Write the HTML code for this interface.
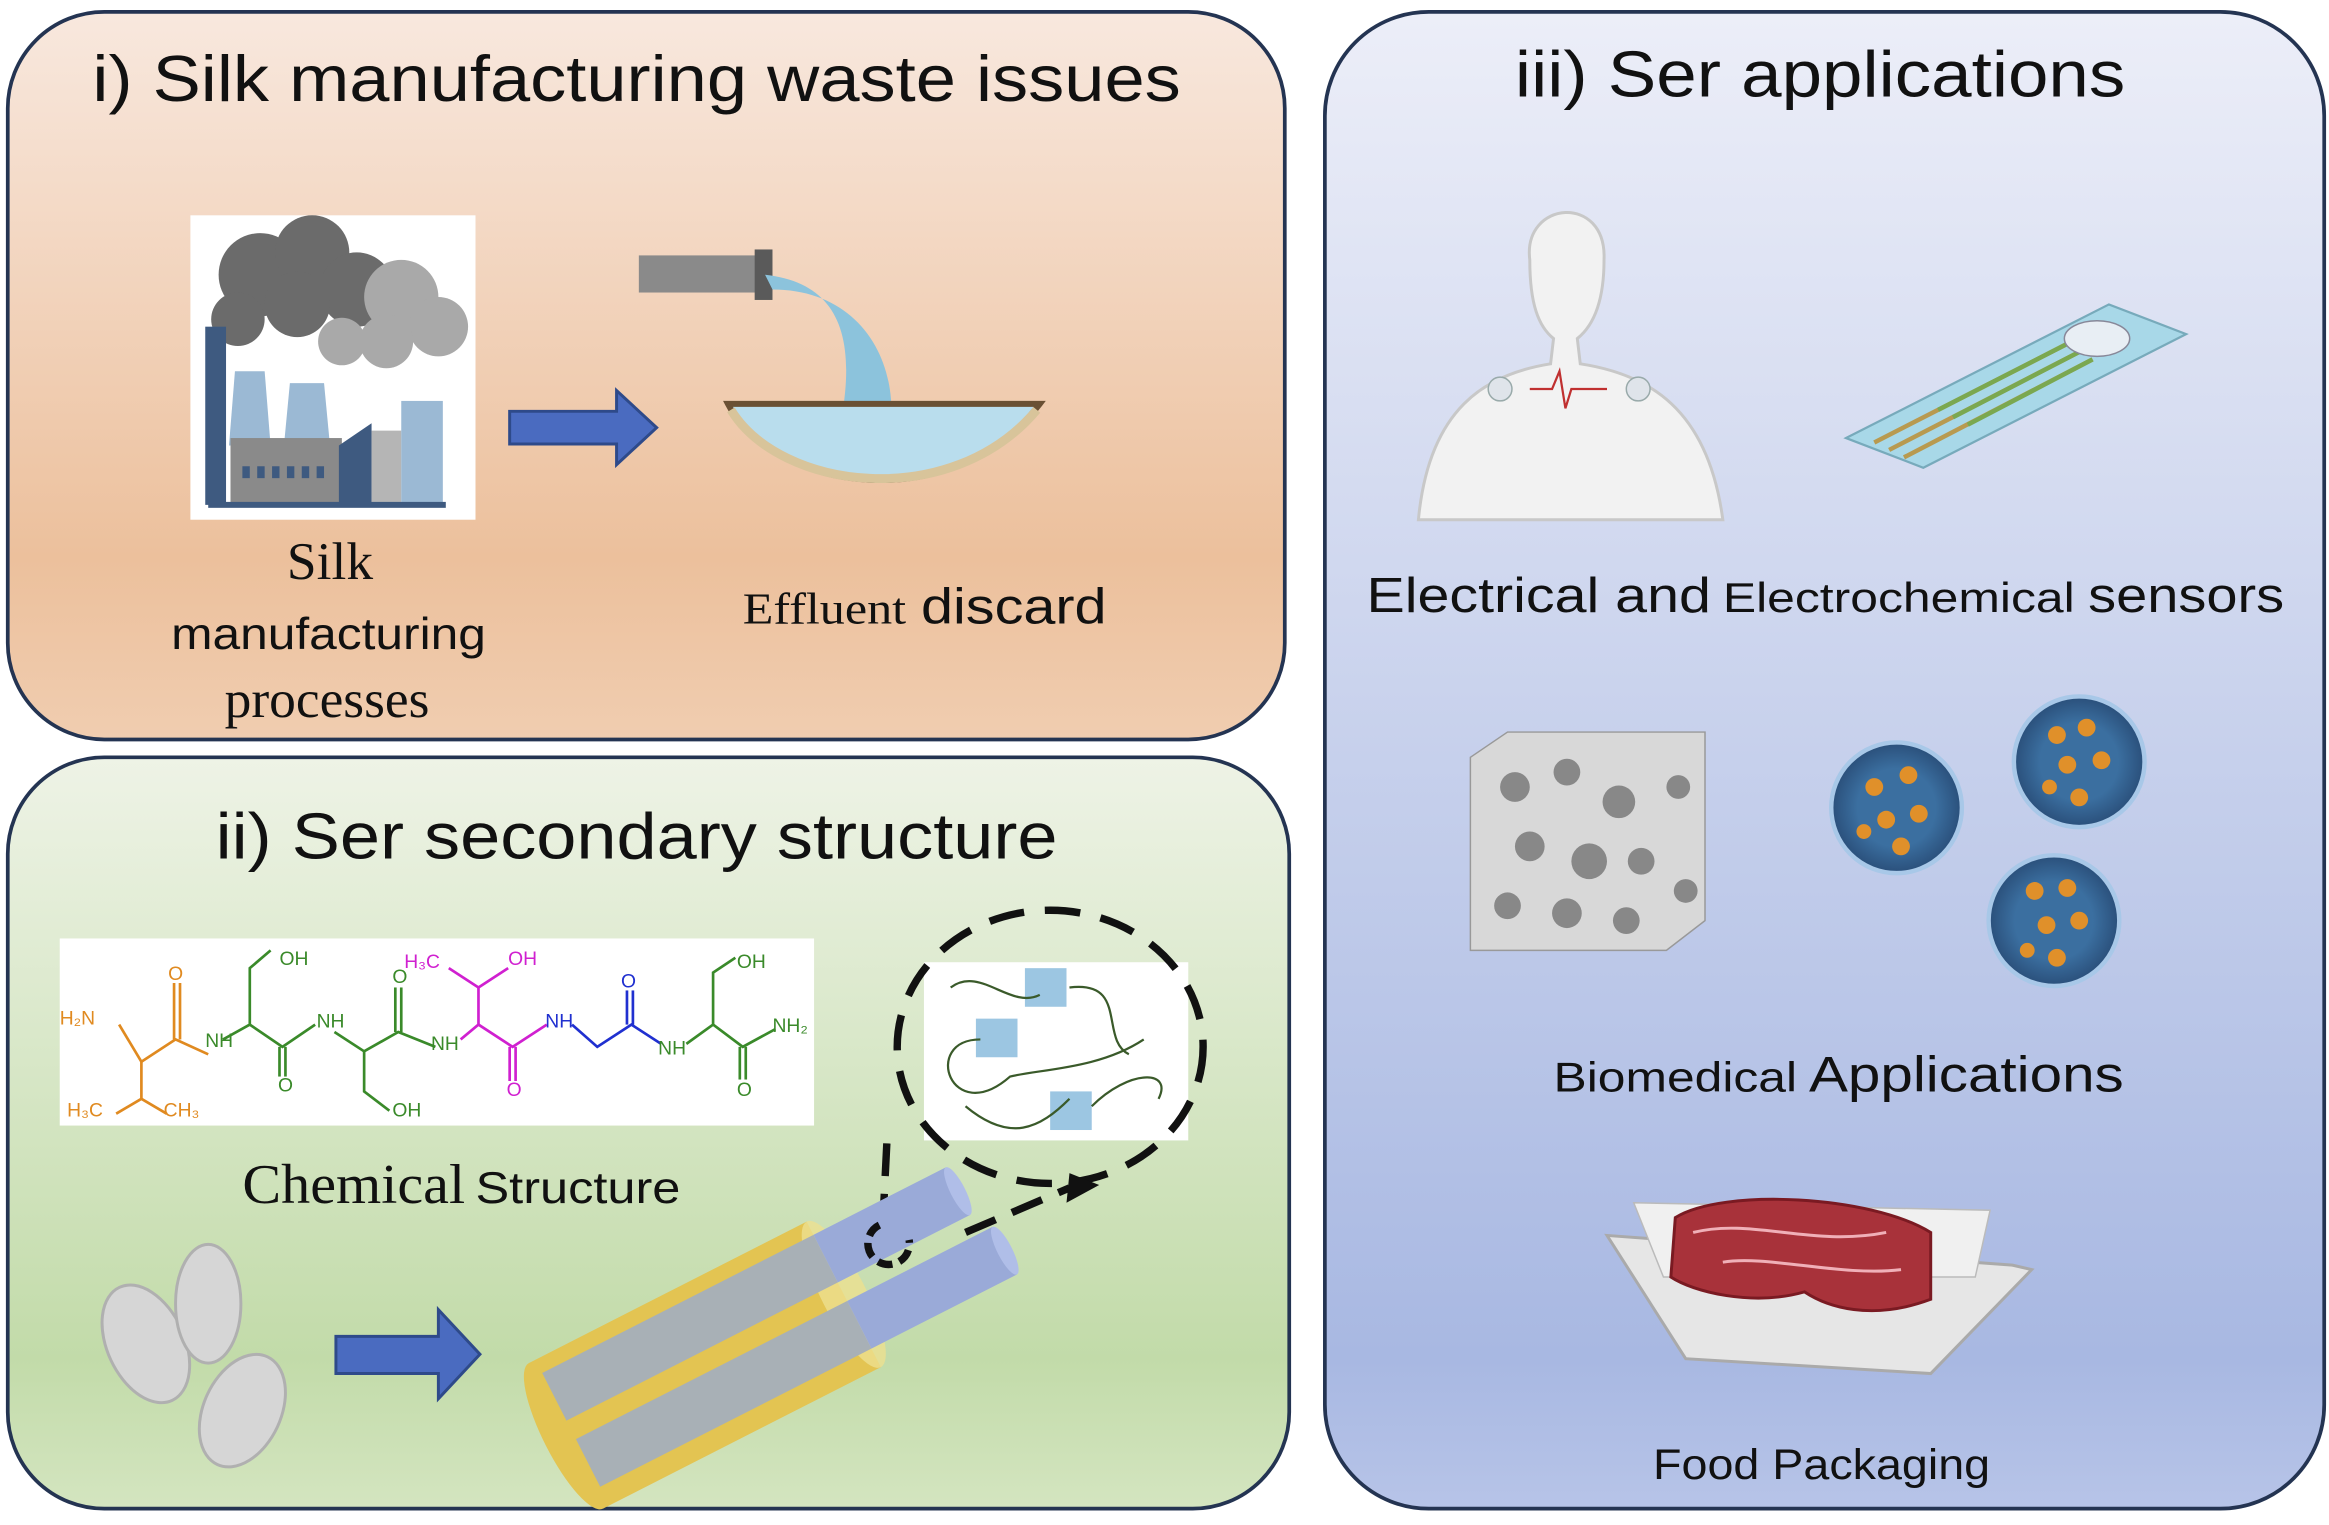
<!DOCTYPE html>
<html><head><meta charset="utf-8"><style>
html,body{margin:0;padding:0;background:#fff;}
svg{display:block;}
text{font-family:"Liberation Sans","DejaVu Sans",sans-serif;}
.serif{font-family:"Liberation Serif",serif;}
</style></head><body>
<svg width="2329" height="1525" viewBox="0 0 1568 1027" xmlns="http://www.w3.org/2000/svg">
<defs>
<linearGradient id="g1" x1="0" y1="0" x2="0" y2="1"><stop offset="0" stop-color="#f8e8de"/><stop offset="0.75" stop-color="#ecc09c"/><stop offset="1" stop-color="#f0cdb0"/></linearGradient>
<linearGradient id="g2" x1="0" y1="0" x2="0" y2="1"><stop offset="0" stop-color="#eef3e6"/><stop offset="0.8" stop-color="#c2dba9"/><stop offset="1" stop-color="#d4e5c0"/></linearGradient>
<linearGradient id="g3" x1="0" y1="0" x2="0" y2="1"><stop offset="0" stop-color="#eceef8"/><stop offset="0.9" stop-color="#a8b8e2"/><stop offset="1" stop-color="#b7c4e8"/></linearGradient>
<radialGradient id="cap"><stop offset="0.6" stop-color="#3b6fa0"/><stop offset="1" stop-color="#2a4f7a"/></radialGradient>
</defs>
<rect x="5" y="8" width="860" height="490" rx="65" fill="url(#g1)" stroke="#243452" stroke-width="2.5"/>
<rect x="5" y="510" width="863" height="506" rx="65" fill="url(#g2)" stroke="#243452" stroke-width="2.5"/>
<rect x="892" y="8" width="673" height="1008" rx="70" fill="url(#g3)" stroke="#243452" stroke-width="2.5"/>

<text x="62" y="68" font-size="44" textLength="733" lengthAdjust="spacingAndGlyphs" fill="#111">i) Silk manufacturing waste issues</text>
<text x="1020" y="65" font-size="44" textLength="411" lengthAdjust="spacingAndGlyphs" fill="#111">iii) Ser applications</text>
<text x="145" y="578" font-size="44" textLength="567" lengthAdjust="spacingAndGlyphs" fill="#111">ii) Ser secondary structure</text>

<!-- factory -->
<rect x="128" y="145" width="192" height="205" fill="#fff"/>
<g fill="#6b6b6b"><circle cx="175" cy="185" r="28"/><circle cx="210" cy="170" r="25"/><circle cx="240" cy="195" r="25"/><circle cx="160" cy="215" r="18"/><circle cx="200" cy="205" r="22"/></g>
<g fill="#a9a9a9"><circle cx="270" cy="200" r="25"/><circle cx="295" cy="220" r="20"/><circle cx="260" cy="230" r="18"/><circle cx="230" cy="230" r="16"/></g>
<rect x="138" y="220" width="14" height="120" fill="#3e5a80"/>
<polygon points="158,250 178,250 182,300 154,300" fill="#9bb9d4"/>
<polygon points="195,258 218,258 222,300 191,300" fill="#9bb9d4"/>
<rect x="155" y="295" width="75" height="45" fill="#8a8a8a"/>
<g fill="#3e5a80"><rect x="163" y="314" width="5" height="8"/><rect x="173" y="314" width="5" height="8"/><rect x="183" y="314" width="5" height="8"/><rect x="193" y="314" width="5" height="8"/><rect x="203" y="314" width="5" height="8"/><rect x="213" y="314" width="5" height="8"/></g>
<polygon points="228,300 250,285 250,340 228,340" fill="#3e5a80"/>
<rect x="250" y="290" width="20" height="50" fill="#b5b5b5"/>
<rect x="270" y="270" width="28" height="70" fill="#9bb9d4"/>
<rect x="140" y="338" width="160" height="4" fill="#3e5a80"/>
<text x="222" y="390" class="serif" font-size="36" text-anchor="middle" fill="#111">Silk</text>
<text x="115" y="437" font-size="30" textLength="212" lengthAdjust="spacingAndGlyphs" fill="#111">manufacturing</text>
<text x="220" y="483" class="serif" font-size="36" text-anchor="middle" fill="#111">processes</text>

<polygon points="343,277 415,277 415,263 442,288 415,313 415,299 343,299" fill="#4a6bc0" stroke="#2e4a8a" stroke-width="2"/>

<!-- effluent -->
<rect x="430" y="172" width="82" height="25" fill="#8a8a8a"/>
<rect x="508" y="168" width="12" height="34" fill="#5a5a5a"/>
<path d="M515,185 C560,190 575,220 568,272 L600,272 C598,230 570,195 520,195 Z" fill="#8cc3dc"/>
<path d="M490,272 C520,330 640,350 700,272 Z" fill="#b9dded" stroke="#6a5034" stroke-width="4"/>
<path d="M492,276 C525,330 640,345 698,276" fill="none" stroke="#d8c49a" stroke-width="6"/>
<text x="500" y="420" class="serif" font-size="30" textLength="110" lengthAdjust="spacingAndGlyphs" fill="#111">Effluent</text>
<text x="620" y="420" font-size="34" textLength="125" lengthAdjust="spacingAndGlyphs" fill="#111">discard</text>

<!-- chem structure -->
<rect x="40" y="632" width="508" height="126" fill="#fff"/>
<g fill="none" stroke-width="1.8">
<polyline stroke="#e08a20" points="80,690 95,715 118,700 140,710"/>
<polyline stroke="#e08a20" points="95,715 95,740 78,750"/>
<polyline stroke="#e08a20" points="95,740 112,750"/>
<line stroke="#e08a20" x1="117" y1="700" x2="117" y2="662"/><line stroke="#e08a20" x1="121" y1="700" x2="121" y2="662"/>
<polyline stroke="#3a8a2a" points="150,700 168,690 168,652 182,640"/>
<polyline stroke="#3a8a2a" points="168,690 190,705 212,690"/>
<line stroke="#3a8a2a" x1="188" y1="705" x2="188" y2="725"/><line stroke="#3a8a2a" x1="192" y1="705" x2="192" y2="725"/>
<polyline stroke="#3a8a2a" points="225,695 245,708 268,695 293,705"/>
<polyline stroke="#3a8a2a" points="245,708 245,735 262,748"/>
<line stroke="#3a8a2a" x1="266" y1="695" x2="266" y2="665"/><line stroke="#3a8a2a" x1="270" y1="695" x2="270" y2="665"/>
<polyline stroke="#d020d0" points="310,700 322,690 345,705 368,690"/>
<polyline stroke="#d020d0" points="322,690 322,665 342,652"/>
<polyline stroke="#d020d0" points="322,665 302,652"/>
<line stroke="#d020d0" x1="343" y1="705" x2="343" y2="728"/><line stroke="#d020d0" x1="347" y1="705" x2="347" y2="728"/>
<polyline stroke="#2030d0" points="385,690 402,705 425,690 445,703"/>
<line stroke="#2030d0" x1="422" y1="690" x2="422" y2="667"/><line stroke="#2030d0" x1="426" y1="690" x2="426" y2="667"/>
<polyline stroke="#3a8a2a" points="462,703 480,690 480,655 495,645"/>
<polyline stroke="#3a8a2a" points="480,690 500,705 522,693"/>
<line stroke="#3a8a2a" x1="498" y1="705" x2="498" y2="727"/><line stroke="#3a8a2a" x1="502" y1="705" x2="502" y2="727"/>
</g>
<g font-size="13">
<text x="40" y="690" fill="#e08a20">H₂N</text><text x="113" y="660" fill="#e08a20">O</text>
<text x="45" y="752" fill="#e08a20">H₃C</text><text x="110" y="752" fill="#e08a20">CH₃</text>
<text x="138" y="705" fill="#3a8a2a">NH</text><text x="188" y="650" fill="#3a8a2a">OH</text>
<text x="213" y="692" fill="#3a8a2a">NH</text><text x="187" y="735" fill="#3a8a2a">O</text>
<text x="264" y="752" fill="#3a8a2a">OH</text><text x="264" y="662" fill="#3a8a2a">O</text>
<text x="290" y="707" fill="#3a8a2a">NH</text>
<text x="272" y="652" fill="#d020d0">H₃C</text><text x="342" y="650" fill="#d020d0">OH</text>
<text x="341" y="738" fill="#d020d0">O</text>
<text x="367" y="692" fill="#2030d0">NH</text><text x="418" y="665" fill="#2030d0">O</text>
<text x="443" y="710" fill="#3a8a2a">NH</text><text x="496" y="652" fill="#3a8a2a">OH</text>
<text x="520" y="695" fill="#3a8a2a">NH₂</text><text x="496" y="738" fill="#3a8a2a">O</text>
</g>
<text x="163" y="810" class="serif" font-size="38" textLength="150" lengthAdjust="spacingAndGlyphs" fill="#111">Chemical</text>
<text x="320" y="810" font-size="30" textLength="138" lengthAdjust="spacingAndGlyphs" fill="#111">Structure</text>

<!-- zoom circle -->
<rect x="622" y="648" width="178" height="120" fill="#fff"/>
<ellipse cx="707" cy="705" rx="103" ry="92" fill="none" stroke="#111" stroke-width="5" stroke-dasharray="24,14"/>
<g fill="#9cc6e2"><rect x="690" y="652" width="28" height="26"/><rect x="657" y="686" width="28" height="26"/><rect x="707" y="735" width="28" height="26"/></g>
<path d="M640,665 C660,650 680,680 700,670 M720,665 C760,660 740,700 760,710 M660,700 C620,700 640,760 680,725 C700,720 740,720 770,700 M650,745 C680,770 700,760 720,740 M735,745 C760,720 790,720 780,740" fill="none" stroke="#3a5a2a" stroke-width="1.5"/>
<path d="M597,770 L595,810 M650,830 L720,800" stroke="#111" stroke-width="5" stroke-dasharray="22,12" fill="none"/>
<polygon points="720,790 740,798 718,810" fill="#111"/>

<!-- cocoons -->
<g fill="#d6d6d6" stroke="#b0b0b0" stroke-width="2">
<ellipse cx="98" cy="905" rx="26" ry="42" transform="rotate(-25 98 905)"/>
<ellipse cx="140" cy="878" rx="22" ry="40"/>
<ellipse cx="163" cy="950" rx="26" ry="40" transform="rotate(25 163 950)"/>
</g>
<polygon points="226,900 295,900 295,882 323,912 295,942 295,925 226,925" fill="#4a6bc0" stroke="#2e4a8a" stroke-width="2"/>

<!-- fiber -->
<g transform="rotate(-27 510 890)">
<rect x="360" y="845" width="210" height="110" fill="#e3c452"/>
<ellipse cx="360" cy="900" rx="15" ry="55" fill="#e3c452"/>
<ellipse cx="570" cy="900" rx="15" ry="55" fill="#ece090" opacity="0.8"/>
<rect x="365" y="855" width="205" height="36" fill="#a8b0b6"/>
<rect x="570" y="855" width="100" height="36" fill="#9aaad8"/>
<rect x="365" y="905" width="205" height="36" fill="#a8b0b6"/>
<rect x="570" y="905" width="110" height="36" fill="#9aaad8"/>
<ellipse cx="670" cy="873" rx="5" ry="18" fill="#b0bee8"/>
<ellipse cx="680" cy="923" rx="5" ry="18" fill="#b0bee8"/>
</g>
<path d="M592,825 a14,14 0 1,0 20,10" stroke="#111" stroke-width="5" fill="none" stroke-dasharray="10,5"/>

<!-- man -->
<path d="M1030,175 C1025,135 1082,130 1080,175 C1080,205 1072,220 1062,228 L1064,245 C1110,252 1150,275 1160,350 L955,350 C962,275 1000,252 1044,245 L1046,228 C1036,220 1030,205 1030,175 Z" fill="#f2f2f2" stroke="#c8c8c8" stroke-width="2"/>
<path d="M1030,262 L1045,262 L1050,250 L1054,275 L1058,262 L1082,262" stroke="#c03030" stroke-width="1.5" fill="none"/>
<circle cx="1010" cy="262" r="8" fill="#dfe4ea" stroke="#9aa"/><circle cx="1103" cy="262" r="8" fill="#dfe4ea" stroke="#9aa"/>
<!-- sensor strip -->
<polygon points="1243,295 1420,205 1472,225 1295,315" fill="#a8d8e8" stroke="#7ab" stroke-width="1.5"/>
<g stroke="#b89a50" stroke-width="3"><line x1="1262" y1="298" x2="1395" y2="230"/><line x1="1272" y1="303" x2="1402" y2="236"/><line x1="1282" y1="308" x2="1409" y2="242"/></g>
<g stroke="#7aa850" stroke-width="3"><line x1="1305" y1="276" x2="1395" y2="230"/><line x1="1315" y1="281" x2="1402" y2="236"/><line x1="1325" y1="286" x2="1409" y2="242"/></g>
<ellipse cx="1412" cy="228" rx="22" ry="12" fill="#e8eef4" stroke="#889"/>
<text x="920" y="412" font-size="33" textLength="232" lengthAdjust="spacingAndGlyphs" fill="#111">Electrical and</text>
<text x="1160" y="412" font-size="28" textLength="237" lengthAdjust="spacingAndGlyphs" fill="#111">Electrochemical</text>
<text x="1406" y="412" font-size="33" textLength="132" lengthAdjust="spacingAndGlyphs" fill="#111">sensors</text>

<!-- scaffold -->
<polygon points="990,510 1015,493 1148,493 1148,620 1122,640 990,640" fill="#d8d8d8" stroke="#999"/>
<g fill="#888"><circle cx="1020" cy="530" r="10"/><circle cx="1055" cy="520" r="9"/><circle cx="1090" cy="540" r="11"/><circle cx="1030" cy="570" r="10"/><circle cx="1070" cy="580" r="12"/><circle cx="1105" cy="580" r="9"/><circle cx="1015" cy="610" r="9"/><circle cx="1055" cy="615" r="10"/><circle cx="1095" cy="620" r="9"/><circle cx="1130" cy="530" r="8"/><circle cx="1135" cy="600" r="8"/></g>
<g>
<circle cx="1277" cy="544" r="44" fill="url(#cap)" stroke="#a8c8e8" stroke-width="3"/>
<circle cx="1400" cy="513" r="44" fill="url(#cap)" stroke="#a8c8e8" stroke-width="3"/>
<circle cx="1383" cy="620" r="44" fill="url(#cap)" stroke="#a8c8e8" stroke-width="3"/>
<g fill="#e0902a">
<circle cx="1262" cy="530" r="6"/><circle cx="1285" cy="522" r="6"/><circle cx="1270" cy="552" r="6"/><circle cx="1292" cy="548" r="6"/><circle cx="1280" cy="570" r="6"/><circle cx="1255" cy="560" r="5"/>
<circle cx="1385" cy="495" r="6"/><circle cx="1405" cy="490" r="6"/><circle cx="1392" cy="515" r="6"/><circle cx="1415" cy="512" r="6"/><circle cx="1400" cy="537" r="6"/><circle cx="1380" cy="530" r="5"/>
<circle cx="1370" cy="600" r="6"/><circle cx="1392" cy="598" r="6"/><circle cx="1378" cy="623" r="6"/><circle cx="1400" cy="620" r="6"/><circle cx="1385" cy="645" r="6"/><circle cx="1365" cy="640" r="5"/>
</g></g>
<text x="1046" y="735" font-size="28" textLength="164" lengthAdjust="spacingAndGlyphs" fill="#111">Biomedical</text>
<text x="1218" y="735" font-size="34" textLength="212" lengthAdjust="spacingAndGlyphs" fill="#111">Applications</text>

<!-- food tray -->
<polygon points="1082,832 1355,852 1368,855 1300,925 1135,915" fill="#e6e6e6" stroke="#aaa" stroke-width="2"/>
<polygon points="1100,810 1340,815 1330,860 1120,860" fill="#f0f0f0" stroke="#bbb"/>
<path d="M1128,820 C1160,800 1260,805 1300,830 L1300,875 C1260,890 1230,880 1215,870 C1180,880 1140,870 1125,860 Z" fill="#a8323a" stroke="#7a1a22" stroke-width="2"/>
<path d="M1140,830 C1180,820 1220,840 1270,830 M1160,850 C1190,845 1240,860 1280,855" stroke="#f0b0b8" stroke-width="2" fill="none"/>
<text x="1113" y="996" font-size="29" textLength="227" lengthAdjust="spacingAndGlyphs" fill="#111">Food Packaging</text>
</svg>
</body></html>
